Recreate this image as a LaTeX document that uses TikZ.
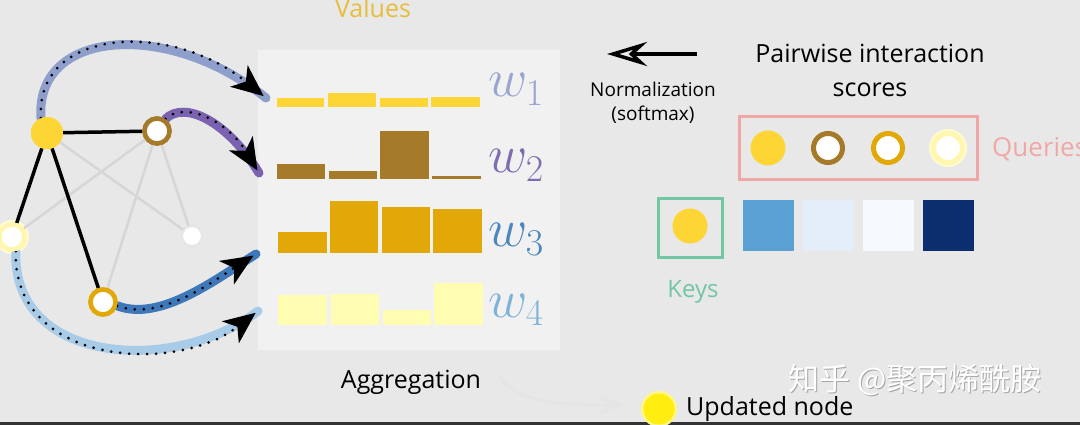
\documentclass[tikz,border=0pt]{standalone}
\usepackage{fix-cm}
\usepackage{fontspec}
\setmainfont{Open Sans}
\newfontfamily\cjk{Noto Sans CJK SC}
\usetikzlibrary{arrows.meta}
\definecolor{bg}{HTML}{E8E8E8}
\definecolor{panel}{HTML}{F1F1F1}
\definecolor{yel}{HTML}{FDD535}
\definecolor{brn}{HTML}{A57A28}
\definecolor{gld}{HTML}{E2A808}
\definecolor{pale}{HTML}{FFF6B0}
\definecolor{palebar}{HTML}{FFFDB2}
\definecolor{ca}{HTML}{8E9FCC}
\definecolor{cb}{HTML}{7A62B0}
\definecolor{cc}{HTML}{3F78B8}
\definecolor{cd}{HTML}{A8CCE8}
\definecolor{wa}{HTML}{9AA4D0}
\definecolor{wb}{HTML}{7E6CB0}
\definecolor{wc}{HTML}{4C86BC}
\definecolor{wd}{HTML}{7FB2D8}
\definecolor{sqa}{HTML}{5AA0D2}
\definecolor{sqb}{HTML}{E4EEF8}
\definecolor{sqc}{HTML}{F6F9FD}
\definecolor{sqd}{HTML}{0B2F6E}
\definecolor{pinkq}{HTML}{F2A7A7}
\definecolor{greenk}{HTML}{72C6A4}
\definecolor{valtxt}{HTML}{E6BE3C}
\definecolor{edgegray}{HTML}{D6D6D6}
\definecolor{updyel}{HTML}{FFEE10}
\tikzset{
  gnode/.style={circle, inner sep=0pt},
  fillnode/.style={gnode, fill=yel, minimum size=32pt},
  ringnode/.style={gnode, fill=white, draw=#1, line width=4.5pt, minimum size=25pt},
  blackedge/.style={line width=3.5pt, black},
  grayedge/.style={line width=2.5pt, edgegray},
  flowc/.style={line width=9pt, line cap=round, draw=#1},
  flowd/.style={line width=3pt, line cap=round, dash pattern=on 0pt off 9pt, black,
     -{Stealth[length=32pt, width=28pt, inset=9pt, line width=0pt]}, shorten >=3pt},
  txt/.style={inner sep=0pt, anchor=base},
  sq/.style={minimum size=51pt, inner sep=0pt},
}
\begin{document}
\begin{tikzpicture}[x=1pt, y=-1pt]
\useasboundingbox (0,0) rectangle (1080,425);
\fill[bg] (0,0) rectangle (1080,425);
\fill[black!80] (0,422) rectangle (1080,425);

% values panel
\fill[panel] (258,50) rectangle (560,350);
\node[txt, text=valtxt, font=\fontsize{25}{28}\selectfont] (values) at (373,18) {Values};

% bars
\fill[yel] (277,98) rectangle (324,107);
\fill[yel] (328,93) rectangle (376,107);
\fill[yel] (380,98) rectangle (428,107);
\fill[yel] (431,97) rectangle (480,107);
\fill[brn] (277,164) rectangle (325,179);
\fill[brn] (329,171) rectangle (377,179);
\fill[brn] (380,131) rectangle (429,179);
\fill[brn] (432,176) rectangle (481,179);
\fill[gld] (278,232) rectangle (327,253);
\fill[gld] (330,201) rectangle (378,253);
\fill[gld] (382,207) rectangle (430,253);
\fill[gld] (433,209) rectangle (482,253);
\fill[palebar] (278,295) rectangle (327,325);
\fill[palebar] (331,294) rectangle (379,325);
\fill[palebar] (383,310) rectangle (431,325);
\fill[palebar] (434,283) rectangle (483,325);

% weight labels
\node[inner sep=0pt, anchor=base west, text=wa, font=\fontsize{54}{60}\selectfont] (w1) at (488,97) {$w_1$};
\node[inner sep=0pt, anchor=base west, text=wb, font=\fontsize{54}{60}\selectfont] (w2) at (488,173) {$w_2$};
\node[inner sep=0pt, anchor=base west, text=wc, font=\fontsize{54}{60}\selectfont] (w3) at (488,247) {$w_3$};
\node[inner sep=0pt, anchor=base west, text=wd, font=\fontsize{54}{60}\selectfont] (w4) at (488,317) {$w_4$};

% graph nodes
\node[fillnode] (A) at (47,133) {};
\node[ringnode=brn] (B) at (157,131) {};
\node[gnode, fill=pale!60, minimum size=34pt] (Cglow) at (12,237) {};
\node[ringnode=pale] (C) at (12,237) {};
\node[gnode, fill=white, draw=edgegray!60, line width=2pt, minimum size=20pt] (D) at (192,236) {};
\node[ringnode=gld] (E) at (103,302) {};

% edges
\draw[grayedge] (A) -- (D);
\draw[grayedge] (B) -- (C);
\draw[grayedge] (B) -- (E);
\draw[grayedge] (B) -- (D);
\draw[blackedge] (A) -- (B);
\draw[blackedge] (A) -- (C);
\draw[blackedge] (A) -- (E);

% arrow targets
\coordinate (t1) at (266,98);
\coordinate (t2) at (259,173);
\coordinate (t3) at (256,254);
\coordinate (t4) at (258,311);

% curved arrows
\draw[flowc=ca] (A.112) .. controls (35,28) and (170,20) .. (t1);
\draw[flowd] (A.112) .. controls (35,28) and (170,20) .. (t1);
\draw[flowc=cb] (B.55) .. controls (185,100) and (228,122) .. (t2);
\draw[flowd] (B.55) .. controls (185,100) and (228,122) .. (t2);
\draw[flowc=cc] (E.-15) .. controls (160,322) and (215,280) .. (t3);
\draw[flowd] (E.-15) .. controls (160,322) and (215,280) .. (t3);
\draw[flowc=cd] (C.-75) .. controls (12,365) and (175,375) .. (t4);
\draw[flowd] (C.-75) .. controls (12,365) and (175,375) .. (t4);

% redraw nodes on top
\node[fillnode] at (A) {};
\node[ringnode=brn] at (B) {};
\node[ringnode=pale] at (C) {};
\node[ringnode=gld] at (E) {};

% normalization
\coordinate (n1) at (697,54);
\coordinate (n2) at (607,54);
\draw[line width=4.5pt, -{Stealth[open, length=40pt, width=24pt, inset=13pt, line width=3.5pt]}] (n1) -- (n2);
\node[txt, font=\fontsize{19}{22}\selectfont] (norm) at (653,97) {Normalization};
\node[txt, font=\fontsize{19}{22}\selectfont] (soft) at (653,121) {(softmax)};

% pairwise
\node[txt, font=\fontsize{25}{30}\selectfont] (pw) at (870,63) {Pairwise interaction};
\node[txt, font=\fontsize{25}{30}\selectfont] (sc) at (870,97) {scores};

% queries
\node[draw=pinkq, line width=3pt, minimum width=238pt, minimum height=63pt, inner sep=0pt] (qbox) at (858,148.5) {};
\node[gnode, fill=yel, minimum size=35pt] (q1) at (768,148) {};
\node[ringnode=brn, minimum size=29pt, line width=5pt] (q2) at (828,148) {};
\node[ringnode=gld, minimum size=29pt, line width=5pt] (q3) at (888,148) {};
\node[gnode, fill=pale!60, minimum size=38pt] (q4g) at (948,148) {};
\node[ringnode=pale, minimum size=29pt, line width=5pt] (q4) at (948,148) {};
\node[txt, anchor=base west, text=pinkq, font=\fontsize{26}{30}\selectfont] (qtxt) at (992,157) {Queries};

% keys
\node[draw=greenk, line width=3pt, minimum width=64pt, minimum height=59pt, inner sep=0pt] (kbox) at (690.5,228) {};
\node[gnode, fill=yel, minimum size=35pt] (k1) at (690,226) {};
\node[txt, text=greenk, font=\fontsize{24}{28}\selectfont] (ktxt) at (693,297) {Keys};

% scores squares
\node[sq, fill=sqa] (s1) at (768.5,225.5) {};
\node[sq, fill=sqb] (s2) at (828.5,225.5) {};
\node[sq, fill=sqc] (s3) at (888.5,225.5) {};
\node[sq, fill=sqd] (s4) at (948.5,225.5) {};

% aggregation
\node[txt, font=\fontsize{25}{30}\selectfont] (agg) at (411,388) {Aggregation};
\node[gnode, fill=updyel!50, minimum size=36pt] (ug) at (659,409) {};
\node[gnode, fill=updyel, minimum size=31pt] (u) at (659,409) {};
\node[txt, anchor=base west, font=\fontsize{25}{30}\selectfont] (utxt) at (686,415) {Updated node};
\coordinate (ag1) at (499,376);
\coordinate (ag2) at (624,405);
\draw[line width=3pt, black!10, -{Stealth[open, length=26pt, width=20pt, inset=10pt, line width=3pt]}] (ag1) .. controls (515,402) and (560,405) .. (ag2);

% watermark
\node[txt, anchor=base west, text=black!35, font=\cjk\fontsize{31}{34}\selectfont] (wm0) at (789.5,391.5) {知乎 @聚丙烯酰胺};
\node[txt, anchor=base west, text=white, font=\cjk\fontsize{31}{34}\selectfont] (wm) at (788,390) {知乎 @聚丙烯酰胺};
\end{tikzpicture}
\end{document}
